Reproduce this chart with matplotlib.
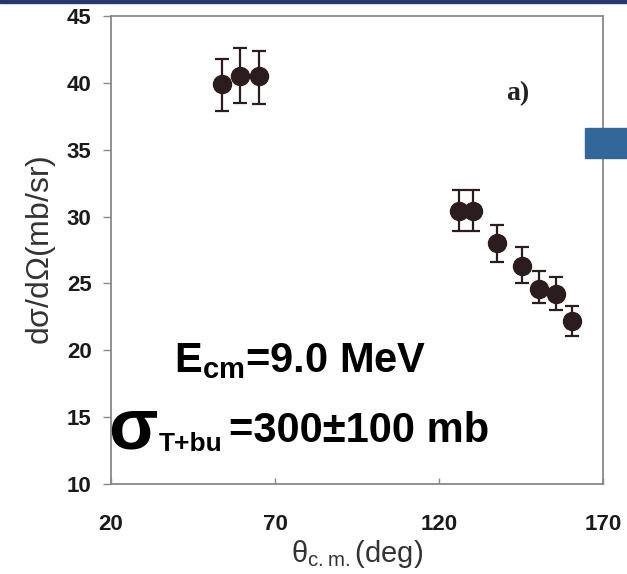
import matplotlib
matplotlib.use('Agg')
import matplotlib.pyplot as plt
from matplotlib.patches import Rectangle

plt.rcParams['font.family'] = ['Liberation Sans', 'DejaVu Sans']
plt.rcParams['mathtext.fontset'] = 'custom'
plt.rcParams['mathtext.rm'] = 'Liberation Sans:bold'
plt.rcParams['mathtext.bf'] = 'Liberation Sans:bold'
plt.rcParams['mathtext.sf'] = 'Liberation Sans'

# angles (deg) and cross sections (mb/sr)
theta = [53.8, 59.3, 65.1, 126.1, 130.4, 137.7, 145.3, 150.5, 155.7, 160.5]
xsec = [39.9, 40.5, 40.5, 30.4, 30.4, 28.0, 26.3, 24.6, 24.2, 22.2]
err_hi = [41.8, 42.6, 42.4, 32.0, 32.0, 29.4, 27.7, 25.9, 25.5, 23.3]
err_lo = [37.9, 38.5, 38.4, 28.9, 28.9, 26.6, 25.0, 23.5, 23.0, 21.1]

xticks = [20, 70, 120, 170]
yticks = [10, 15, 20, 25, 30, 35, 40, 45]

yerr = [[v - lo for v, lo in zip(xsec, err_lo)],
        [hi - v for v, hi in zip(xsec, err_hi)]]

fig = plt.figure(figsize=(6.27, 5.74), dpi=100)
ax = fig.add_axes([0.177, 0.157, 0.785, 0.815])

ax.errorbar(theta, xsec, yerr=yerr, fmt='o', color='#2b1d1d', ms=13,
            elinewidth=1.6, capsize=5, capthick=1.6)

ax.set_xlim(20, 170)
ax.set_ylim(10, 45)
ax.set_xticks(xticks)
ax.set_yticks(yticks)
ax.tick_params(axis='y', direction='out', length=6, width=1, color='#888',
               labelsize=16, pad=8, labelcolor='#1a1a1a')
ax.tick_params(axis='x', direction='in', length=4, width=1, color='#888',
               labelsize=16, pad=22, labelcolor='#1a1a1a')
for lab in ax.get_xticklabels() + ax.get_yticklabels():
    lab.set_fontweight('bold')
for sp in ax.spines.values():
    sp.set_color('#888')
    sp.set_linewidth(1.3)

ax.set_xlabel(r'$\mathsf{θ_{c.m.}(deg)}$', fontsize=21, color='#333', labelpad=2)
ax.set_ylabel(r'd$\mathsf{σ}$/d$\mathsf{Ω}$(mb/sr)', fontsize=23, color='#333', labelpad=6)

ax.text(0.803, 0.82, 'a)', transform=ax.transAxes, fontsize=20,
        family='Liberation Serif', fontweight='bold', color='#222')

ax.text(0.128, 0.239, r'$\mathrm{E_{cm}}$=9.0 MeV', transform=ax.transAxes,
        fontsize=30, fontweight='bold', va='baseline', color='black')
ax.text(-0.006, 0.075, 'σ', transform=ax.transAxes, fontsize=52,
        fontweight='bold', va='baseline', color='black')
ax.text(0.098, 0.07, 'T+bu', transform=ax.transAxes, fontsize=19,
        fontweight='bold', va='baseline', color='black')
ax.text(0.24, 0.09, '=300±100 mb', transform=ax.transAxes, fontsize=30,
        fontweight='bold', va='baseline', color='black')

# slide decorations: navy band on top, blue block at the right edge
fig.patches.append(Rectangle((0, 0.994), 1, 0.006, transform=fig.transFigure,
                             color='#26366e', zorder=5))
fig.patches.append(Rectangle((0.933, 0.7247), 0.067, 0.052,
                             transform=fig.transFigure, color='#336699', zorder=5))

fig.savefig('out.png', dpi=100)
